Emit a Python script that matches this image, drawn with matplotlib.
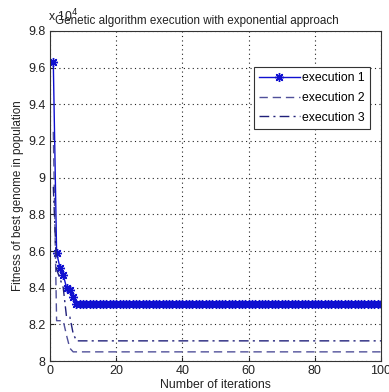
import numpy as np
import matplotlib
matplotlib.use("Agg")
import matplotlib.pyplot as plt

plt.rcParams['font.family'] = ['Liberation Sans', 'DejaVu Sans']

iterations = list(range(1, 101))
exec1_head = [9.63, 8.59, 8.51, 8.47, 8.40, 8.39, 8.35, 8.31]
exec2_head = [9.25, 8.22, 8.22, 8.22, 8.14, 8.07, 8.05]
exec3_head = [8.95, 8.50, 8.45, 8.40, 8.24, 8.24, 8.15, 8.11]
exec1_final = 8.31
exec2_final = 8.05
exec3_final = 8.11
exec1 = exec1_head + [exec1_final] * (100 - len(exec1_head))
exec2 = exec2_head + [exec2_final] * (100 - len(exec2_head))
exec3 = exec3_head + [exec3_final] * (100 - len(exec3_head))

labels = ["execution 1", "execution 2", "execution 3"]
xticks = [0, 20, 40, 60, 80, 100]
yticks = [8, 8.2, 8.4, 8.6, 8.8, 9, 9.2, 9.4, 9.6, 9.8]

fig = plt.figure(figsize=(3.89, 3.92), dpi=100)
ax = fig.add_axes([0.1285, 0.079, 0.851, 0.842])

ax.plot(iterations, exec1, color='#1010d0', lw=1.0, marker=(8, 2, 0), ms=6.5,
        markeredgewidth=1.0, label=labels[0])
ax.plot(iterations, exec2, color='#50509a', lw=1.0, ls=(0, (6, 3.5)), label=labels[1])
ax.plot(iterations, exec3, color='#20207a', lw=1.0, ls=(0, (7, 3, 1.5, 3)), label=labels[2])

ax.set_xlim(0, 100)
ax.set_ylim(8, 9.8)
ax.set_xticks(xticks)
ax.set_yticks(yticks)
ax.set_xticklabels([str(t) for t in xticks])
ax.set_yticklabels(['8', '8.2', '8.4', '8.6', '8.8', '9', '9.2', '9.4', '9.6', '9.8'])
ax.tick_params(direction='in', length=3, labelsize=9, colors='#222222', pad=3)
ax.grid(True, color='#222222', ls=(0, (1, 3)), lw=0.8)
for s in ax.spines.values():
    s.set_color('#333333')
    s.set_linewidth(0.8)

ax.set_xlabel("Number of iterations", fontsize=8.8, labelpad=1, color='#222222')
ax.set_ylabel("Fitness of best genome in population", fontsize=8.4, labelpad=3, color='#222222')
ax.text(0.444, 1.012, "Genetic algorithm execution with exponential approach",
        transform=ax.transAxes, ha='center', va='bottom', fontsize=8.4, color='#222222')
fig.text(48 / 389, 1 - 21 / 392, "x 10$^{4}$", fontsize=8.8, ha='left', va='baseline', color='#222222')

leg = ax.legend(loc='upper right', bbox_to_anchor=(0.967, 0.891), fontsize=8.8,
                frameon=True, fancybox=False, edgecolor='#333333', framealpha=1,
                handlelength=3.3, handletextpad=0.2, borderpad=0.45, labelspacing=0.62,
                borderaxespad=0)
leg.get_frame().set_linewidth(0.8)

fig.savefig("out.png", dpi=100)
